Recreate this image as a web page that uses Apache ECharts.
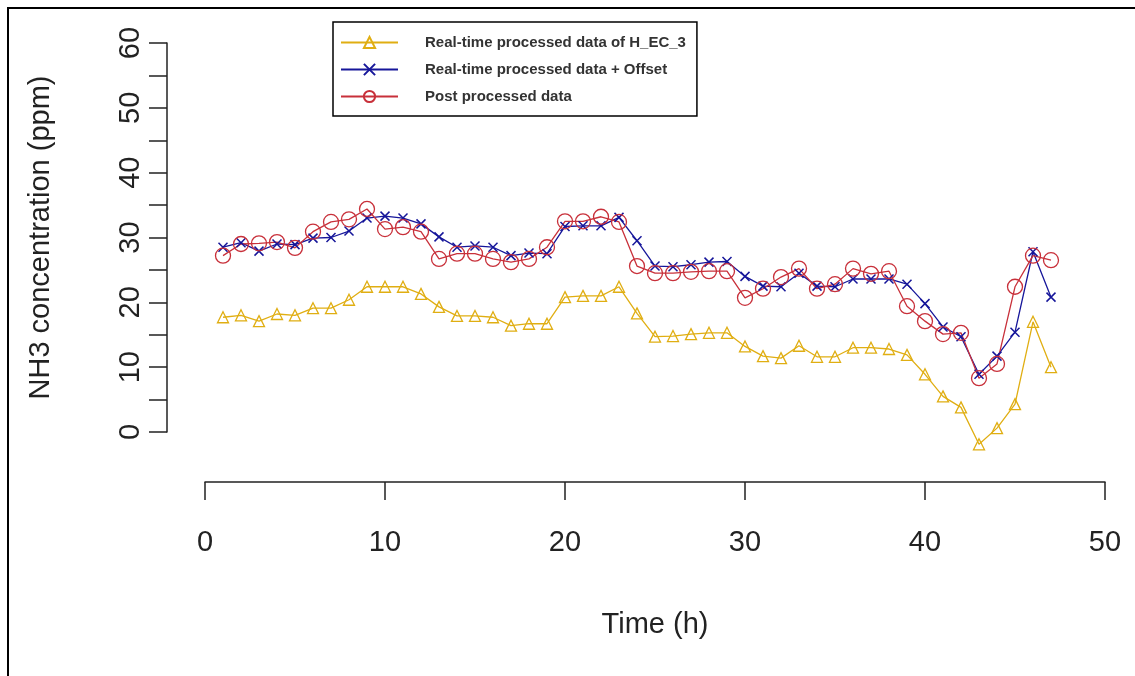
<!DOCTYPE html>
<html>
<head>
<meta charset="utf-8">
<script src="https://cdn.jsdelivr.net/npm/echarts@6/dist/echarts.min.js"></script>
<style>
  html, body { margin: 0; padding: 0; background: #fff; }
  #frame { position: absolute; left: 7px; top: 7px; width: 1140px; height: 700px;
           border-left: 2px solid #000; border-top: 2px solid #000; }
  #chart { position: absolute; left: 0; top: 0; width: 1135px; height: 676px; }
</style>
</head>
<body>
<div id="frame"></div>
<div id="chart"></div>
<script>
// Horas (eje x)
const hours = [1, 2, 3, 4, 5, 6, 7, 8, 9, 10, 11, 12, 13, 14, 15, 16, 17, 18, 19, 20,
               21, 22, 23, 24, 25, 26, 27, 28, 29, 30, 31, 32, 33, 34, 35, 36, 37, 38, 39, 40,
               41, 42, 43, 44, 45, 46, 47];

// Datos
const realTime = [17.7, 18.0, 17.1, 18.2, 18.0, 19.1, 19.1, 20.4, 22.4, 22.4,
                  22.4, 21.3, 19.3, 17.9, 17.9, 17.7, 16.4, 16.7, 16.7, 20.8,
                  21.0, 21.0, 22.4, 18.3, 14.7, 14.8, 15.1, 15.3, 15.3, 13.2,
                  11.7, 11.4, 13.3, 11.6, 11.6, 13.0, 13.0, 12.8, 11.9, 8.9,
                  5.5, 3.8, -1.9, 0.6, 4.3, 17.0, 10.0];
const realTimeOffset = [28.5, 29.2, 27.9, 29.0, 28.9, 29.9, 30.0, 31.0, 33.0, 33.3,
                        33.0, 32.1, 30.1, 28.5, 28.7, 28.5, 27.2, 27.6, 27.5, 31.7,
                        31.8, 31.8, 33.1, 29.5, 25.6, 25.5, 25.8, 26.2, 26.3, 24.0,
                        22.5, 22.4, 24.5, 22.5, 22.4, 23.6, 23.6, 23.6, 22.8, 19.8,
                        16.2, 14.7, 8.9, 11.7, 15.4, 27.8, 20.8];
const postProcessed = [27.2, 29.0, 29.1, 29.3, 28.4, 30.9, 32.4, 32.8, 34.4, 31.3,
                       31.6, 30.9, 26.7, 27.5, 27.5, 26.7, 26.2, 26.7, 28.5, 32.5,
                       32.5, 33.2, 32.4, 25.6, 24.5, 24.5, 24.7, 24.8, 24.8, 20.7,
                       22.1, 23.9, 25.2, 22.1, 22.8, 25.2, 24.4, 24.8, 19.4, 17.1,
                       15.1, 15.3, 8.3, 10.5, 22.4, 27.2, 26.5];

const seriesNames = ['Real-time processed data of H_EC_3',
                     'Real-time processed data + Offset',
                     'Post processed data'];
const xTicks = [0, 10, 20, 30, 40, 50];
const yTicks = [0, 10, 20, 30, 40, 50, 60];

const pairs = values => hours.map((h, i) => [h, values[i]]);

const font = '"Liberation Sans", Arial, sans-serif';
const chart = echarts.init(document.getElementById('chart'));

const option = {
    animation: false,
    backgroundColor: 'transparent',
    legend: {
        left: 333,
        top: 22,
        orient: 'vertical',
        itemGap: 12,
        itemWidth: 57,
        itemHeight: 14,
        padding: [13, 11, 12, 7],
        borderColor: '#000',
        borderWidth: 1.5,
        textStyle: {
            fontFamily: font,
            fontSize: 15,
            fontWeight: 'bold',
            color: '#333',
            padding: [0, 0, 0, 22]
        },
        data: seriesNames
    },
    grid: { left: 205, right: 30, top: 43, bottom: 244 },
    xAxis: {
        type: 'value',
        min: 0,
        max: 50,
        interval: 10,
        offset: 50,
        name: 'Time (h)',
        nameLocation: 'middle',
        nameGap: 128,
        nameTextStyle: { fontFamily: font, fontSize: 29, color: '#222' },
        axisLine: { onZero: false, lineStyle: { color: '#222', width: 1.5 } },
        axisTick: { length: 18, lineStyle: { color: '#222', width: 1.5 } },
        axisLabel: {
            margin: 46,
            fontFamily: font,
            fontSize: 29,
            color: '#222',
            formatter: v => xTicks.includes(v) ? String(v) : ''
        },
        splitLine: { show: false }
    },
    yAxis: {
        type: 'value',
        min: 0,
        max: 60,
        interval: 5,
        offset: 38,
        name: 'NH3 concentration (ppm)',
        nameLocation: 'middle',
        nameGap: 112,
        nameRotate: 90,
        nameTextStyle: { fontFamily: font, fontSize: 29, color: '#222' },
        axisLine: { show: true, onZero: false, lineStyle: { color: '#222', width: 1.5 } },
        axisTick: { show: true, length: 18, lineStyle: { color: '#222', width: 1.5 } },
        axisLabel: {
            rotate: 90,
            margin: 22,
            fontFamily: font,
            fontSize: 29,
            color: '#222',
            formatter: v => yTicks.includes(v) ? String(v) : ''
        },
        splitLine: { show: false }
    },
    series: [
        {
            name: seriesNames[0],
            type: 'line',
            data: pairs(realTime),
            clip: false,
            symbol: 'triangle',
            symbolSize: 11,
            color: '#E0AE12',
            lineStyle: { color: '#E0AE12', width: 1.3 },
            itemStyle: { color: 'rgba(255,255,255,0)', borderColor: '#E0AE12', borderWidth: 1.3 }
        },
        {
            name: seriesNames[1],
            type: 'line',
            data: pairs(realTimeOffset),
            clip: false,
            symbol: 'path://M0,0L10,10M10,0L0,10',
            symbolSize: 9,
            color: '#16169A',
            lineStyle: { color: '#16169A', width: 1.3 },
            itemStyle: { color: 'rgba(255,255,255,0)', borderColor: '#16169A', borderWidth: 1.5 }
        },
        {
            name: seriesNames[2],
            type: 'line',
            data: pairs(postProcessed),
            clip: false,
            symbol: 'circle',
            symbolSize: 15,
            color: '#C8303A',
            lineStyle: { color: '#C8303A', width: 1.3 },
            itemStyle: { color: 'rgba(255,255,255,0)', borderColor: '#C8303A', borderWidth: 1.3 }
        }
    ]
};

chart.setOption(option);
</script>
</body>
</html>
